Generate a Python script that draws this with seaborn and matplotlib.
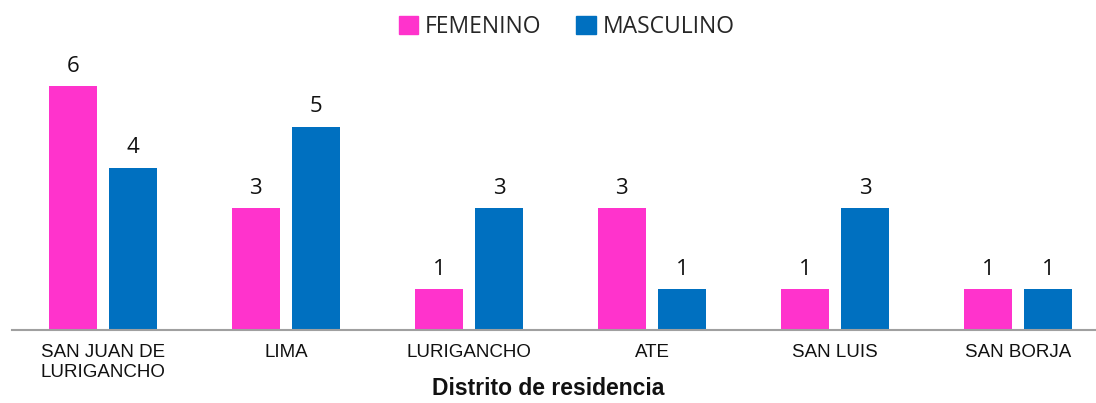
import seaborn as sns
import matplotlib.pyplot as plt
import matplotlib.patches as mpatches
import pandas as pd

OUTPUT_FILE_NAME = "out.png"

distritos = ["SAN JUAN DE\nLURIGANCHO", "LIMA", "LURIGANCHO", "ATE", "SAN LUIS", "SAN BORJA"]
femenino = [6, 3, 1, 3, 1, 1]
masculino = [4, 5, 3, 1, 3, 1]
sexos = ["FEMENINO", "MASCULINO"]
colores = ["#FF33CC", "#0070C0"]


if __name__ == "__main__":
    # long format for seaborn
    data = pd.DataFrame({
        "distrito": distritos * 2,
        "sexo": [sexos[0]] * len(distritos) + [sexos[1]] * len(distritos),
        "cantidad": femenino + masculino,
    })

    sns.set_theme(style="white")
    plt.rcParams["font.family"] = ["Liberation Sans", "DejaVu Sans"]

    fig = plt.figure(figsize=(10.96, 4.03), dpi=100)
    ax = fig.add_axes([0.0105, 0.181, 0.9895, 0.665])

    sns.barplot(data=data, x="distrito", y="cantidad", hue="sexo",
                order=distritos, hue_order=sexos, palette=colores, saturation=1,
                width=0.66, gap=0.2, linewidth=0, errorbar=None, legend=False, ax=ax)

    # value labels
    for cont in ax.containers:
        ax.bar_label(cont, padding=7, fontsize=16, family="Open Sans", color="#111111")

    ax.set_xlim(-0.5, 5.426)
    ax.set_ylim(0, 6.6)
    ax.set_yticks([])
    ax.set_ylabel("")
    ax.set_xlabel("")
    ax.tick_params(axis="x", length=0, pad=10, labelsize=13.5, colors="#111111")
    for side in ["top", "right", "left"]:
        ax.spines[side].set_visible(False)
    ax.spines["bottom"].set_color("#A0A0A0")
    ax.spines["bottom"].set_linewidth(1.5)

    fig.text(0.5, 0.008, "Distrito de residencia", ha="center", va="bottom",
             fontsize=16.5, fontweight="bold", color="#111111")

    handles = [mpatches.Patch(color=c, label=s) for s, c in zip(sexos, colores)]
    fig.legend(handles=handles, loc="upper center", bbox_to_anchor=(0.517, 1.015),
               ncol=2, frameon=False, prop={"family": "Open Sans", "size": 16.5},
               handlelength=0.85, handleheight=0.85, handletextpad=0.3, columnspacing=1.5)

    plt.savefig(OUTPUT_FILE_NAME, dpi=100)
